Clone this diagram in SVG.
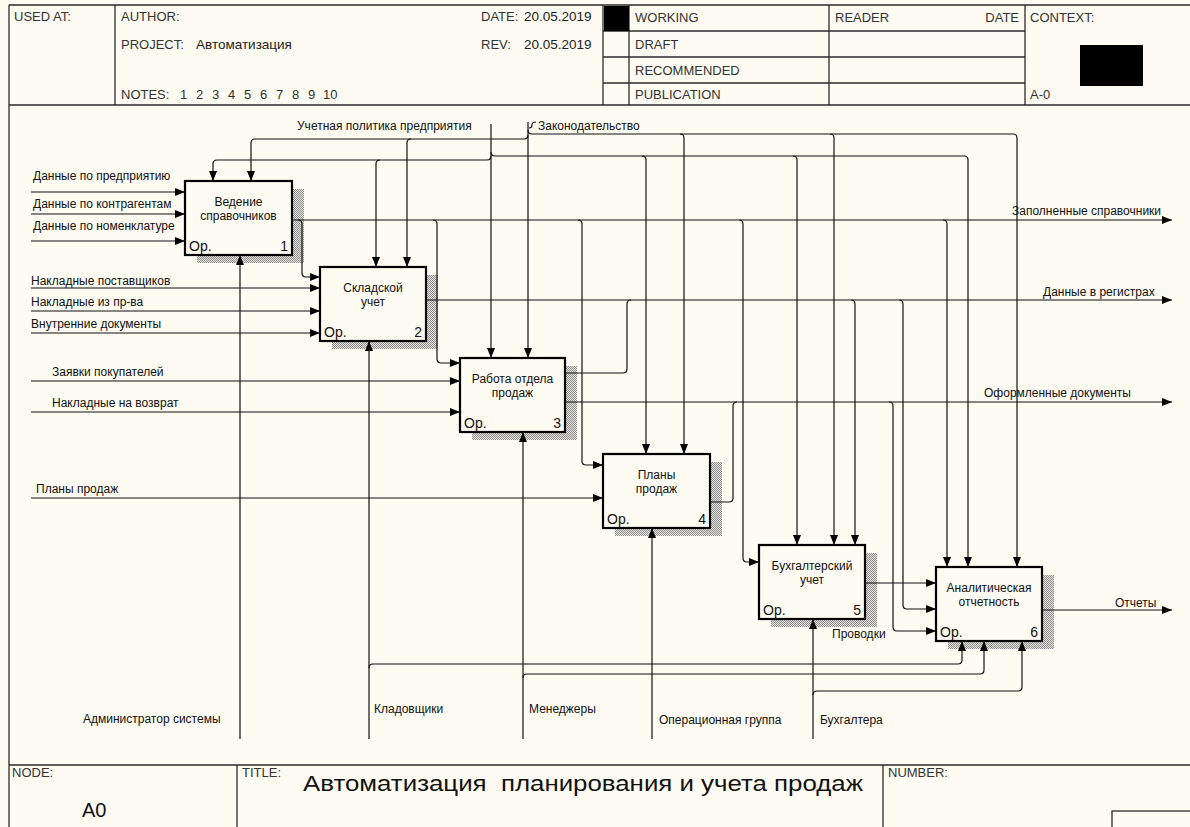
<svg xmlns="http://www.w3.org/2000/svg" width="1190" height="827" viewBox="0 0 1190 827">
  <defs>
    <style>
      .bg{fill:#fdfbf2}
      .frame{fill:none;stroke:#2b2b2b;stroke-width:1.3}
      .hdr{font-family:"Liberation Sans",Arial,sans-serif;font-size:13px;fill:#333}
      .val{font-family:"Liberation Sans",Arial,sans-serif;font-size:13.5px;fill:#222}
      .box{fill:#fdfbf2;stroke:#000;stroke-width:2.2}
      .shadow{fill:url(#hatch)}
      .name{font-family:"Liberation Sans",Arial,sans-serif;font-size:12px;fill:#111;text-anchor:middle}
      .op{font-family:"Liberation Sans",Arial,sans-serif;font-size:14px;fill:#111}
      .num{font-family:"Liberation Sans",Arial,sans-serif;font-size:14px;fill:#111;text-anchor:end}
      .c{fill:none;stroke:#111;stroke-width:1.2}
      .a{marker-end:url(#ah)}
      .lbl{font-family:"Liberation Sans",Arial,sans-serif;font-size:12px;fill:#111}
    </style>
    <marker id="ah" markerUnits="userSpaceOnUse" markerWidth="10" markerHeight="8" refX="10" refY="4" orient="auto">
      <path d="M0,0 L10,4 L0,8 Z" fill="#000"/>
    </marker>
    <pattern id="hatch" width="2" height="2" patternUnits="userSpaceOnUse">
      <rect width="2" height="2" fill="#e6e5e0"/>
      <rect width="1" height="1" fill="#8c8c8c"/>
      <rect x="1" y="1" width="1" height="1" fill="#8c8c8c"/>
    </pattern>
  </defs>

  <rect class="bg" x="0" y="0" width="1190" height="827"/>

  <!-- drawing frame and header / title block -->
  <g id="frame">
    <path class="frame" d="M9,5 H1192 M9,5 V830 M9,105 H1192 M9,765 H1192"/>
    <path class="frame" d="M115,5 V105 M603,5 V105 M629,5 V105 M829,5 V105 M1025,5 V105"/>
    <path class="frame" d="M603,31 H1025 M603,57 H1025 M603,83 H1025"/>
    <path class="frame" d="M237,765 V830 M883,765 V830"/>
    <rect class="frame" x="1112" y="811" width="90" height="30"/>
    <rect x="604" y="6" width="25" height="25" fill="#000"/>
    <rect x="1080" y="45" width="63" height="41" fill="#000"/>

    <text class="hdr" x="14" y="21">USED AT:</text>
    <text class="hdr" x="121" y="21">AUTHOR:</text>
    <text class="hdr" x="121" y="49">PROJECT:</text>
    <text class="val" x="196" y="49">Автоматизация</text>
    <text class="hdr" x="121" y="99">NOTES:</text>
    <text class="hdr" y="99"><tspan x="180">1</tspan><tspan x="196">2</tspan><tspan x="212">3</tspan><tspan x="228">4</tspan><tspan x="244">5</tspan><tspan x="260">6</tspan><tspan x="276">7</tspan><tspan x="292">8</tspan><tspan x="308">9</tspan><tspan x="323">10</tspan></text>
    <text class="hdr" x="481" y="21">DATE:</text>
    <text class="val" x="524" y="21">20.05.2019</text>
    <text class="hdr" x="481" y="49">REV:</text>
    <text class="val" x="524" y="49">20.05.2019</text>
    <text class="hdr" x="635" y="22">WORKING</text>
    <text class="hdr" x="635" y="49">DRAFT</text>
    <text class="hdr" x="635" y="75">RECOMMENDED</text>
    <text class="hdr" x="635" y="99">PUBLICATION</text>
    <text class="hdr" x="835" y="22">READER</text>
    <text class="hdr" x="1019" y="22" text-anchor="end">DATE</text>
    <text class="hdr" x="1030" y="22">CONTEXT:</text>
    <text class="hdr" x="1030" y="99">A-0</text>

    <text class="hdr" x="12" y="777" font-size="11">NODE:</text>
    <text class="hdr" x="242" y="777" font-size="11">TITLE:</text>
    <text class="hdr" x="888" y="777" font-size="11">NUMBER:</text>
    <text x="82" y="817" font-family="Liberation Sans, Arial, sans-serif" font-size="20" fill="#111">A0</text>
    <text x="303" y="791" font-family="Liberation Sans, Arial, sans-serif" font-size="22" fill="#111" textLength="560" lengthAdjust="spacingAndGlyphs" style="white-space:pre">Автоматизация  планирования и учета продаж</text>
  </g>

  <!-- activity boxes -->
  <g id="node-a1">
    <rect class="shadow" x="197" y="189" width="107" height="74"/>
    <rect class="box" x="185" y="181" width="107" height="74"/>
    <text class="name" x="238.5" y="206">Ведение</text>
    <text class="name" x="238.5" y="220">справочников</text>
    <text class="op" x="189" y="251">Ор.</text>
    <text class="num" x="288" y="251">1</text>
  </g>
  <g id="node-a2">
    <rect class="shadow" x="332" y="275" width="106" height="74"/>
    <rect class="box" x="320" y="267" width="106" height="74"/>
    <text class="name" x="373" y="292">Складской</text>
    <text class="name" x="373" y="306">учет</text>
    <text class="op" x="324" y="337">Ор.</text>
    <text class="num" x="422" y="337">2</text>
  </g>
  <g id="node-a3">
    <rect class="shadow" x="472" y="366" width="105" height="74"/>
    <rect class="box" x="460" y="358" width="105" height="74"/>
    <text class="name" x="512.5" y="383">Работа отдела</text>
    <text class="name" x="512.5" y="397">продаж</text>
    <text class="op" x="464" y="428">Ор.</text>
    <text class="num" x="561" y="428">3</text>
  </g>
  <g id="node-a4">
    <rect class="shadow" x="615" y="462" width="107" height="74"/>
    <rect class="box" x="603" y="454" width="107" height="74"/>
    <text class="name" x="656.5" y="479">Планы</text>
    <text class="name" x="656.5" y="493">продаж</text>
    <text class="op" x="607" y="524">Ор.</text>
    <text class="num" x="706" y="524">4</text>
  </g>
  <g id="node-a5">
    <rect class="shadow" x="771" y="553" width="106" height="74"/>
    <rect class="box" x="759" y="545" width="106" height="74"/>
    <text class="name" x="812" y="570">Бухгалтерский</text>
    <text class="name" x="812" y="584">учет</text>
    <text class="op" x="763" y="615">Ор.</text>
    <text class="num" x="861" y="615">5</text>
  </g>
  <g id="node-a6">
    <rect class="shadow" x="948" y="575" width="106" height="74"/>
    <rect class="box" x="936" y="567" width="106" height="74"/>
    <text class="name" x="989" y="592">Аналитическая</text>
    <text class="name" x="989" y="606">отчетность</text>
    <text class="op" x="940" y="637">Ор.</text>
    <text class="num" x="1038" y="637">6</text>
  </g>

  <!-- arrows -->
  <g id="connectors">
    <!-- inputs from the boundary -->
    <path class="c a" d="M31,192 H185"/>
    <path class="c a" d="M31,214 H185"/>
    <path class="c a" d="M31,241 H185"/>
    <path class="c a" d="M31,288 H320"/>
    <path class="c a" d="M31,311 H320"/>
    <path class="c a" d="M31,333 H320"/>
    <path class="c a" d="M31,381 H460"/>
    <path class="c a" d="M31,412 H460"/>
    <path class="c a" d="M31,498 H603"/>

    <!-- filled reference books -->
    <path class="c a" d="M292,220 H1172"/>
    <path class="c a" d="M298,220 q4,0 4,4 V273 q0,4 4,4 H320"/>
    <path class="c a" d="M433,220 q4,0 4,4 V359 q0,4 4,4 H460"/>
    <path class="c a" d="M578,220 q4,0 4,4 V461 q0,4 4,4 H603"/>
    <path class="c a" d="M739,220 q4,0 4,4 V558 q0,4 4,4 H759"/>
    <path class="c a" d="M943,220 q4,0 4,4 V567"/>

    <!-- register data -->
    <path class="c a" d="M426,300 H1172"/>
    <path class="c" d="M565,373 H623 q4,0 4,-4 V304 q0,-4 4,-4"/>
    <path class="c a" d="M851,300 q4,0 4,4 V545"/>
    <path class="c a" d="M899,300 q4,0 4,4 V605 q0,4 4,4 H936"/>

    <!-- issued documents -->
    <path class="c a" d="M565,402 H1172"/>
    <path class="c" d="M710,502 H729 q4,0 4,-4 V406 q0,-4 4,-4"/>
    <path class="c a" d="M889,402 q4,0 4,4 V627 q0,4 4,4 H936"/>

    <path class="c a" d="M865,583 H936"/>
    <path class="c a" d="M1042,610 H1172"/>

    <!-- accounting policy -->
    <path class="c a" d="M491,124 V358"/>
    <path class="c a" d="M491,156 q0,4 -4,4 H217 q-4,0 -4,4 V181"/>
    <path class="c a" d="M380,160 q-4,0 -4,4 V267"/>
    <path class="c a" d="M491,152 q0,4 4,4 H964 q4,0 4,4 V567"/>
    <path class="c a" d="M642,156 q4,0 4,4 V454"/>
    <path class="c a" d="M793,156 q4,0 4,4 V545"/>

    <!-- legislation -->
    <path class="c a" d="M528,122 V358"/>
    <path class="c a" d="M528,135 q0,4 -4,4 H255 q-4,0 -4,4 V181"/>
    <path class="c a" d="M411,139 q-4,0 -4,4 V267"/>
    <path class="c a" d="M528,130 q0,4 4,4 H1013 q4,0 4,4 V567"/>
    <path class="c a" d="M680,134 q4,0 4,4 V454"/>
    <path class="c a" d="M830,134 q4,0 4,4 V545"/>
    <path class="c" d="M529,128 q3,0 3,-3 q0,-3 4,-3"/>

    <!-- mechanisms -->
    <path class="c a" d="M240,739 V255"/>
    <path class="c a" d="M369,739 V341"/>
    <path class="c a" d="M369,668 q0,-4 4,-4 H958 q4,0 4,-4 V641"/>
    <path class="c a" d="M523,739 V432"/>
    <path class="c a" d="M523,678 q0,-4 4,-4 H980 q4,0 4,-4 V641"/>
    <path class="c a" d="M652,739 V528"/>
    <path class="c a" d="M813,739 V619"/>
    <path class="c a" d="M813,695 q0,-4 4,-4 H1018 q4,0 4,-4 V641"/>
  </g>

  <!-- arrow labels -->
  <g id="labels">
    <text class="lbl" x="33" y="180">Данные по предприятию</text>
    <text class="lbl" x="33" y="208">Данные по контрагентам</text>
    <text class="lbl" x="33" y="230">Данные по номенклатуре</text>
    <text class="lbl" x="31" y="285">Накладные поставщиков</text>
    <text class="lbl" x="31" y="306">Накладные из пр-ва</text>
    <text class="lbl" x="31" y="328">Внутренние документы</text>
    <text class="lbl" x="52" y="376">Заявки покупателей</text>
    <text class="lbl" x="52" y="407">Накладные на возврат</text>
    <text class="lbl" x="36" y="493">Планы продаж</text>
    <text class="lbl" x="297" y="130">Учетная политика предприятия</text>
    <text class="lbl" x="538" y="130">Законодательство</text>
    <text class="lbl" x="1012" y="215">Заполненные справочники</text>
    <text class="lbl" x="1043" y="296">Данные в регистрах</text>
    <text class="lbl" x="984" y="397">Оформленные документы</text>
    <text class="lbl" x="1115" y="607">Отчеты</text>
    <text class="lbl" x="832" y="638">Проводки</text>
    <text class="lbl" x="83" y="723">Администратор системы</text>
    <text class="lbl" x="374" y="713">Кладовщики</text>
    <text class="lbl" x="529" y="713">Менеджеры</text>
    <text class="lbl" x="659" y="724">Операционная группа</text>
    <text class="lbl" x="820" y="724">Бухгалтера</text>
  </g>
</svg>
